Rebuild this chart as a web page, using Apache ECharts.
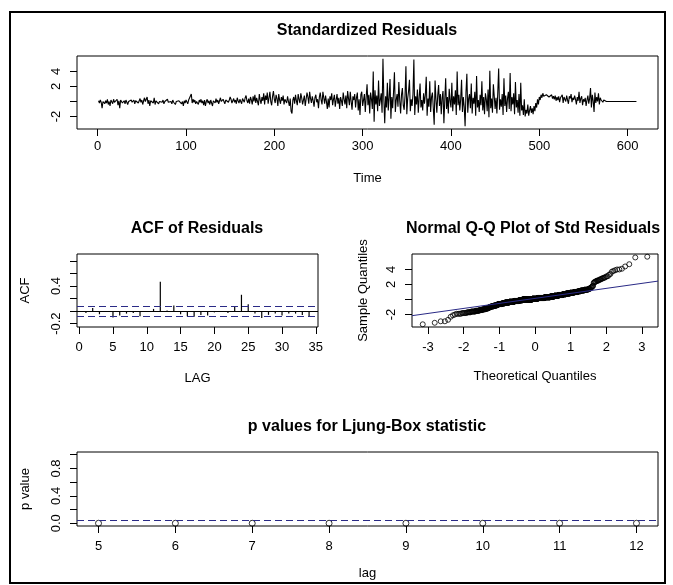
<!DOCTYPE html>
<html>
<head>
<meta charset="utf-8">
<script src="https://cdn.jsdelivr.net/npm/echarts@6/dist/echarts.min.js"></script>
<style>
  html, body { margin: 0; padding: 0; background: #fff; }
  #main-chart { width: 673px; height: 585px; }
</style>
</head>
<body>
<div id="main-chart"></div>
<script>
// standardized residuals, t = 1..610
const stdResiduals = [
  0.1, -0.2, 0.2, -0.1, -0.9, 0.0, 0.2, -0.3, 0.1, -0.2,
  0.3, -0.4, 0.0, -0.6, 0.2, 0.1, -0.3, 0.3, -0.1, 0.0,
  -0.2, 0.3, -0.5, 0.1, -0.9, 0.2, 0.4, -0.2, 0.0, 0.1,
  -0.3, 0.2, -0.1, -0.4, 0.0, 0.1, -0.2, 0.2, -0.1, 0.0,
  0.2, -0.3, 0.1, -0.1, 0.3, -0.2, 0.0, 0.4, -0.1, 0.2,
  -0.4, 0.1, 0.5, 0.0, -0.2, 0.6, -0.3, 0.2, -0.6, 0.1,
  0.0, 0.3, -0.2, 0.5, -0.4, 0.1, -0.1, 0.2, -0.3, 0.0,
  0.1, -0.2, -0.1, 0.2, -0.3, 0.0, 0.1, -0.2, 0.3, -0.1,
  -0.2, 0.1, 0.0, -0.3, 0.2, -0.1, 0.1, -0.4, 0.0, 0.2,
  -0.2, 0.1, -0.1, 0.3, -0.3, 0.0, -0.6, 0.1, -0.2, 0.2,
  0.0, -0.3, 0.2, 0.1, 0.4, 1.0, -0.2, 0.3, -0.1, 0.2,
  -0.3, 0.0, 0.1, -0.4, 0.2, -0.1, 0.3, -0.2, 0.1, -0.5,
  0.2, -0.6, 0.0, 0.3, -0.2, 0.1, -0.4, 0.2, 0.0, -0.6,
  0.1, 0.3, -0.2, 0.4, -0.1, 0.2, -0.3, 0.1, 0.5, 0.0,
  -0.2, 0.3, 0.1, -0.3, 0.2, 0.0, 0.4, -0.1, 0.2, 0.6,
  0.3, -0.2, 0.1, 0.4, -0.1, 0.2, -0.3, 0.5, 0.1, -0.2,
  0.3, 0.0, -0.3, 0.4, 0.2, -0.1, 0.5, 0.8, 0.1, -0.2,
  0.4, -0.3, 0.6, 0.2, -0.4, 0.7, 0.0, 0.9, -0.2, 0.5,
  0.3, -0.5, 1.0, 0.2, -0.3, 0.6, 0.1, 1.1, -0.4, 0.8,
  0.2, 1.2, -0.3, 0.5, 1.3, 0.0, -0.5, 0.7, 1.4, 0.3,
  -0.2, 0.9, 0.4, -0.6, 1.0, 0.2, -0.3, 0.6, 0.1, 0.8,
  -0.4, 0.3, 0.5, -0.2, 0.7, 0.0, -0.6, 0.4, -1.3, -1.6,
  0.2, 0.6, -0.3, 0.9, 0.1, -0.5, 1.0, 0.3, -0.2, 1.1,
  0.5, -0.4, 0.2, 0.8, -0.6, 0.3, 1.2, 0.6, -0.3, 1.3,
  0.4, -0.2, 0.7, 0.1, -0.7, 0.5, 0.9, -0.1, 0.3, -0.9,
  0.6, 1.2, 0.2, -0.4, 1.3, 0.5, -0.3, 0.8, 0.0, -1.0,
  0.4, -0.8, 0.7, 0.2, 1.1, -0.5, 0.3, 0.9, -0.7, 0.2,
  1.0, -0.3, 0.5, -1.0, 0.6, 0.1, -0.6, 1.2, 0.3, -0.4,
  0.8, -0.9, 1.4, 0.4, -0.5, 1.3, 0.0, -1.1, 0.7, 0.2,
  1.0, -0.8, 0.5, 1.2, -1.2, 0.3, -1.8, 0.9, 1.3, -0.6,
  -0.8, 1.0, -1.4, 0.6, 2.3, -0.5, 0.9, -1.6, 1.2, 0.3,
  -1.0, 4.0, -2.7, 1.5, -0.4, 0.8, -1.3, 2.8, -0.6, 0.2,
  1.1, -1.5, 5.7, 0.4, -2.9, 0.7, -0.8, 2.5, -1.2, 0.5,
  3.0, -2.3, 0.6, -0.9, 1.3, 3.9, -1.4, 0.2, 1.0, -0.7,
  2.6, 0.1, -1.6, 0.9, 1.8, -0.5, -1.1, 0.8, 4.7, -1.7,
  0.4, 1.4, 2.9, -1.3, 0.3, -0.6, 1.0, 5.6, -1.8, 0.7,
  -0.4, 1.6, -1.5, 0.5, 2.4, -0.8, 0.2, -1.2, 1.1, -0.3,
  0.9, 3.3, -1.9, 0.4, -0.7, 2.7, -1.4, 0.6, 1.2, -0.9,
  -3.1, 2.8, 0.3, -1.5, 0.8, 2.2, -0.6, 1.0, -1.7, 0.5,
  1.4, -2.9, 0.2, 3.1, -1.0, 0.6, -1.6, 1.7, 0.1, -0.8,
  2.5, -1.3, 0.7, -0.4, 1.5, -1.8, 4.0, -0.5, 0.9, -1.2,
  0.3, 2.9, -1.4, 0.6, -0.7, -3.3, 1.2, 3.7, -1.5, 0.4,
  1.0, -0.9, 2.4, -1.6, 0.5, -0.3, 1.3, -1.9, 3.4, -0.8,
  0.2, -1.4, 0.9, -0.5, 2.7, -1.2, 0.6, -1.7, 1.1, 0.3,
  -1.3, 1.6, -2.1, 4.1, -0.9, 0.4, -1.5, 2.3, 0.7, -1.0,
  0.5, -1.6, 1.2, 4.4, -1.1, 0.3, -0.7, 1.0, -1.8, 3.1,
  -0.6, 0.8, -1.4, 0.4, 1.3, -1.0, 3.8, -1.3, 0.6, -0.4,
  1.1, -1.7, 2.6, -0.8, 0.2, -1.5, 1.0, -1.9, 2.5, -1.2,
  -0.5, -1.8, 0.3, -2.0, -1.1, -1.6, -0.4, -1.9, -1.2, -0.6,
  -1.5, -0.9, -1.7, -0.6, -1.3, -0.2, -0.8, 0.3, -0.4, 0.6,
  0.2, 0.9, 0.5, 1.1, 0.7, 0.8, 0.6, 0.9, 0.7, 0.8,
  0.6, 0.8, 0.5, 0.9, 0.4, 0.7, 0.3, 0.8, 0.1, 0.6,
  0.2, 0.7, -0.1, 0.5, 0.3, 0.9, -0.2, 0.6, 0.4, 0.0,
  0.8, 0.2, -0.3, 0.7, 0.4, 1.0, -0.1, 0.5, 0.2, 0.8,
  0.3, -0.4, 0.6, 0.1, 1.3, -0.2, 0.4, 0.7, -0.5, 0.3,
  0.0, 0.5, -0.6, 0.2, 0.8, -0.3, 0.4, 1.8, -0.8, 0.9,
  0.1, -1.4, 1.2, -0.2, 0.6, 0.0, 1.1, -0.4, 0.5, 0.2,
  0.3, -0.1, 0.2, 0.0, 0.1, 0, 0, 0, 0, 0,
  0, 0, 0, 0, 0, 0, 0, 0, 0, 0,
  0, 0, 0, 0, 0, 0, 0, 0, 0, 0,
  0, 0, 0, 0, 0, 0, 0, 0, 0, 0
]

// residual ACF, lags 1..34
const acfLags = [1, 2, 3, 4, 5, 6, 7, 8, 9, 10, 11, 12, 13, 14, 15, 16, 17,
  18, 19, 20, 21, 22, 23, 24, 25, 26, 27, 28, 29, 30, 31, 32, 33, 34]
const acfValues = [-0.03, 0.05, -0.05, -0.01, -0.10, -0.07, -0.04, -0.03, -0.08, -0.01,
  0.035, 0.466, 0.01, 0.09, -0.05, -0.08, -0.09, -0.06, -0.07, -0.02,
  -0.005, -0.03, 0.08, 0.26, 0.11, -0.04, -0.11, -0.06, -0.04, -0.07,
  -0.04, -0.04, -0.06, -0.08]
const acfBound = 0.081

// Ljung-Box p values
const lbLags = [5, 6, 7, 8, 9, 10, 11, 12]
const lbPValues = [0, 0, 0, 0, 0, 0, 0, 0]
const lbLevel = 0.05

// tick positions / labels
const timeTicks = [0, 100, 200, 300, 400, 500, 600]
const resTicks = [-2, 0, 2, 4]
const resLabels = [-2, 2, 4]
const acfXTicks = [0, 5, 10, 15, 20, 25, 30, 35]
const acfYTicks = [-0.2, 0, 0.2, 0.4, 0.6, 0.8]
const acfYLabels = [-0.2, 0.4]
const qqXTicks = [-3, -2, -1, 0, 1, 2, 3]
const lbYTicks = [0, 0.2, 0.4, 0.6, 0.8, 1.0]
const lbYLabels = [0, 0.4, 0.8]

// inverse normal cdf (Acklam), for the theoretical quantiles
const qnorm = p => {
  const a = [-39.69683028665376, 220.9460984245205, -275.9285104469687, 138.3577518672690, -30.66479806614716, 2.506628277459239]
  const b = [-54.47609879822406, 161.5858368580409, -155.6989798598866, 66.80131188771972, -13.28068155288572]
  const c = [-0.007784894002430293, -0.3223964580411365, -2.400758277161838, -2.549732539343734, 4.374664141464968, 2.938163982698783]
  const d = [0.007784695709041462, 0.3224671290700398, 2.445134137142996, 3.754408661907416]
  const tail = q => (((((c[0] * q + c[1]) * q + c[2]) * q + c[3]) * q + c[4]) * q + c[5]) /
    ((((d[0] * q + d[1]) * q + d[2]) * q + d[3]) * q + 1)
  if (p < 0.02425) return tail(Math.sqrt(-2 * Math.log(p)))
  if (p > 1 - 0.02425) return -tail(Math.sqrt(-2 * Math.log(1 - p)))
  const q = p - 0.5, r = q * q
  return (((((a[0] * r + a[1]) * r + a[2]) * r + a[3]) * r + a[4]) * r + a[5]) * q /
    (((((b[0] * r + b[1]) * r + b[2]) * r + b[3]) * r + b[4]) * r + 1)
}
const quantile = (s, p) => {
  const h = (s.length - 1) * p, lo = Math.floor(h)
  return s[lo] + (h - lo) * (s[Math.min(lo + 1, s.length - 1)] - s[lo])
}

const n = stdResiduals.length
const sorted = stdResiduals.slice().sort((x, y) => x - y)
const qqPoints = sorted.map((v, i) => [qnorm((i + 0.5) / n), v])
const z1 = qnorm(0.25), z3 = qnorm(0.75)
const y1 = quantile(sorted, 0.25), y3 = quantile(sorted, 0.75)
const qqSlope = (y3 - y1) / (z3 - z1)
const qqInt = y1 - qqSlope * z1
const QQ_MIN = -3.45, QQ_MAX = 3.45

const FONT = 'Liberation Sans, Arial, sans-serif'
const BLUE = '#2a2a86'
const lbl = { fontFamily: FONT, fontSize: 13, color: '#000' }

const boxGrid = g => Object.assign({ show: true, borderColor: '#000', borderWidth: 1, backgroundColor: 'transparent' }, g)

const xAx = (idx, min, max, ticks, name, gap, margin) => ({
  type: 'value', gridIndex: idx, min: min, max: max,
  splitLine: { show: false },
  axisLine: { show: false, onZero: false },
  axisTick: { show: true, length: 7, customValues: ticks, lineStyle: { color: '#000' } },
  axisLabel: Object.assign({ customValues: ticks, margin: margin }, lbl),
  name: name, nameLocation: 'middle', nameGap: gap,
  nameTextStyle: lbl
})
const yAx = (idx, min, max, ticks, labels, fmt, name, gap) => ({
  type: 'value', gridIndex: idx, min: min, max: max,
  splitLine: { show: false },
  axisLine: { show: false, onZero: false },
  axisTick: { show: true, length: 7, customValues: ticks, lineStyle: { color: '#000' } },
  axisLabel: Object.assign({ customValues: labels, rotate: 90, margin: 14, formatter: fmt }, lbl),
  name: name, nameLocation: 'middle', nameGap: gap,
  nameTextStyle: lbl
})

const titleAt = (text, x, y) => ({
  text: text, left: x, top: y, textAlign: 'center', padding: 0,
  textStyle: { fontFamily: FONT, fontSize: 16, fontWeight: 'bold', color: '#000' }
})

const chart = echarts.init(document.getElementById('main-chart'), null, { renderer: 'canvas' })
chart.setOption({
  animation: false,
  backgroundColor: '#fff',
  title: [
    titleAt('Standardized Residuals', 367, 23),
    titleAt('ACF of Residuals', 197, 221),
    titleAt('Normal Q-Q Plot of Std Residuals', 533, 221),
    titleAt('p values for Ljung-Box statistic', 367, 419)
  ],
  grid: [
    boxGrid({ left: 77, top: 56, width: 581, height: 73 }),
    boxGrid({ left: 77, top: 254, width: 241, height: 73 }),
    boxGrid({ left: 412, top: 254, width: 246, height: 73 }),
    boxGrid({ left: 77, top: 452, width: 581, height: 74 })
  ],
  xAxis: [
    xAx(0, -23.4, 634.4, timeTicks, 'Time', 43, 11),
    xAx(1, -0.32, 35.32, acfXTicks, 'LAG', 45, 14),
    xAx(2, QQ_MIN, QQ_MAX, qqXTicks, 'Theoretical Quantiles', 43, 14),
    xAx(3, 4.72, 12.28, lbLags, 'lag', 41, 14)
  ],
  yAxis: [
    yAx(0, -3.66, 6.06, resTicks, resLabels, v => String(v), '', 40),
    yAx(1, -0.253, 0.909, acfYTicks, acfYLabels, v => v.toFixed(1), 'ACF', 45),
    yAx(2, -3.66, 6.06, resTicks, resLabels, v => String(v), 'Sample Quantiles', 42),
    yAx(3, -0.04, 1.04, lbYTicks, lbYLabels, v => v.toFixed(1), 'p value', 45)
  ],
  graphic: [{
    type: 'rect', silent: true,
    shape: { x: 10, y: 12, width: 655, height: 571 },
    style: { fill: 'none', stroke: '#000', lineWidth: 2 }
  }],
  series: [
    {
      type: 'line', xAxisIndex: 0, yAxisIndex: 0,
      data: stdResiduals.map((v, i) => [i + 1, v]),
      showSymbol: false, lineStyle: { color: '#000', width: 1.1 }
    },
    {
      type: 'bar', xAxisIndex: 1, yAxisIndex: 1,
      data: acfLags.map((l, i) => [l, acfValues[i]]),
      barWidth: 1.2, itemStyle: { color: '#000' },
      markLine: {
        silent: true, symbol: 'none', label: { show: false },
        data: [
          { yAxis: 0, lineStyle: { color: '#000', type: 'solid', width: 1 } },
          { yAxis: acfBound, lineStyle: { color: BLUE, type: [7, 4], width: 1 } },
          { yAxis: -acfBound, lineStyle: { color: BLUE, type: [7, 4], width: 1 } }
        ]
      }
    },
    {
      type: 'scatter', xAxisIndex: 2, yAxisIndex: 2,
      data: qqPoints, symbol: 'circle', symbolSize: 5,
      itemStyle: { color: 'transparent', borderColor: '#000', borderWidth: 1 }
    },
    {
      type: 'line', xAxisIndex: 2, yAxisIndex: 2,
      data: [[QQ_MIN, qqInt + qqSlope * QQ_MIN], [QQ_MAX, qqInt + qqSlope * QQ_MAX]],
      showSymbol: false, lineStyle: { color: BLUE, width: 1 }
    },
    {
      type: 'scatter', xAxisIndex: 3, yAxisIndex: 3,
      data: lbLags.map((l, i) => [l, lbPValues[i]]), symbol: 'circle', symbolSize: 6,
      itemStyle: { color: 'transparent', borderColor: '#000', borderWidth: 1 },
      markLine: {
        silent: true, symbol: 'none', label: { show: false },
        data: [{ yAxis: lbLevel, lineStyle: { color: BLUE, type: [7, 4], width: 1 } }]
      }
    }
  ]
})
</script>
</body>
</html>
